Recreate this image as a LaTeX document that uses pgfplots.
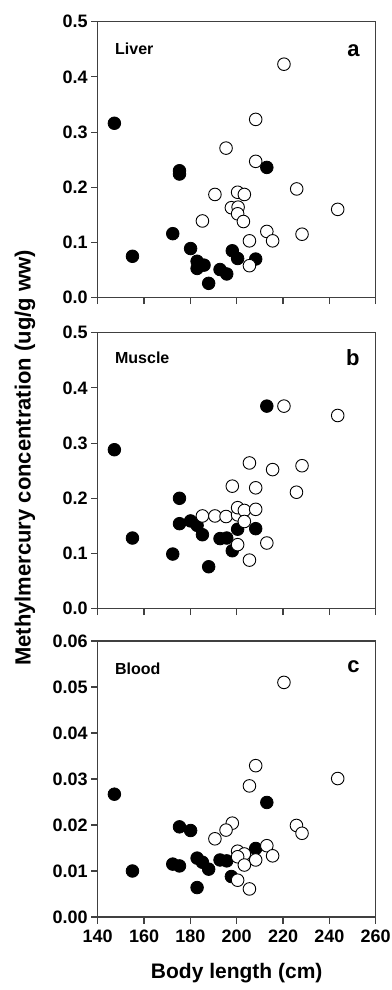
\documentclass[border=0pt]{standalone}
\usepackage{fontspec}
\setmainfont{Liberation Sans}
\usepackage{pgfplots}
\pgfplotsset{compat=1.18}

\pgfplotsset{
  panel/.style={
    scale only axis, width=278pt, height=276pt,
    xmin=140, xmax=260, xtick={140,160,180,200,220,240,260},
    tick pos=left, tick align=outside,
    major tick length=6.5pt,
    axis line style={black!75, line width=1.1pt},
    every tick/.style={black!75, line width=1.1pt},
    tick label style={font=\fontsize{18}{18}\selectfont\bfseries},
    xticklabel style={yshift=-3pt},
    scaled y ticks=false,
    /pgf/number format/assume math mode=true,
  },
  filled/.style={only marks, mark=*, mark size=6.3pt, mark options={fill=black, draw=black, line width=0.8pt}},
  open/.style={only marks, mark=*, mark size=6.3pt, mark options={fill=white, draw=black, line width=0.9pt}},
}

\begin{document}
\begin{tikzpicture}
% Panel a: Liver
\begin{axis}[panel, at={(0pt,619.3pt)}, anchor=south west,
  ymin=0, ymax=0.5, ytick={0,0.1,0.2,0.3,0.4,0.5}, xticklabels={},
  yticklabel style={/pgf/number format/fixed, /pgf/number format/fixed zerofill, /pgf/number format/precision=1}]
\addplot[filled] coordinates {
(147.2,0.316) (155.0,0.075) (172.4,0.116) (175.3,0.230) (175.3,0.224)
(180.1,0.089) (182.9,0.066) (182.9,0.053) (185.9,0.059) (187.9,0.026)
(192.8,0.051) (195.7,0.043) (198.1,0.085) (200.4,0.071) (208.2,0.070)
(213.0,0.236)};
\addplot[open] coordinates {
(220.4,0.423) (208.2,0.323) (195.4,0.271) (208.2,0.247) (225.9,0.197)
(190.6,0.187) (200.4,0.191) (203.3,0.187) (243.6,0.160) (197.7,0.163)
(200.6,0.164) (200.4,0.152) (185.2,0.139) (202.9,0.138) (213.0,0.120)
(215.5,0.103) (228.2,0.115) (205.5,0.103) (205.5,0.058)};
\node[anchor=base west, font=\fontsize{16}{16}\selectfont\bfseries] at (rel axis cs:0.05,0.882) {Liver};
\node[anchor=base east, font=\fontsize{22}{22}\selectfont\bfseries] at (rel axis cs:0.955,0.875) {a};
\end{axis}
% Panel b: Muscle
\begin{axis}[panel, at={(0pt,308.3pt)}, anchor=south west,
  ymin=0, ymax=0.5, ytick={0,0.1,0.2,0.3,0.4,0.5}, xticklabels={},
  yticklabel style={/pgf/number format/fixed, /pgf/number format/fixed zerofill, /pgf/number format/precision=1}]
\addplot[filled] coordinates {
(147.2,0.288) (155.0,0.128) (172.4,0.099) (175.3,0.200) (175.3,0.154)
(180.1,0.159) (182.9,0.151) (185.2,0.134) (187.9,0.076) (192.8,0.127)
(195.7,0.128) (198.1,0.105) (200.4,0.144) (208.2,0.145) (213.0,0.367)};
\addplot[open] coordinates {
(220.4,0.367) (243.6,0.350) (205.5,0.264) (215.5,0.252) (228.2,0.259)
(225.8,0.211) (198.1,0.222) (208.2,0.219) (185.2,0.168) (190.6,0.168)
(195.4,0.167) (200.4,0.170) (200.4,0.183) (203.3,0.178) (208.2,0.180)
(203.3,0.158) (200.4,0.116) (213.0,0.119) (205.5,0.088)};
\node[anchor=base west, font=\fontsize{16}{16}\selectfont\bfseries] at (rel axis cs:0.05,0.889) {Muscle};
\node[anchor=base east, font=\fontsize{22}{22}\selectfont\bfseries] at (rel axis cs:0.955,0.88) {b};
\end{axis}
% Panel c: Blood
\begin{axis}[panel, at={(0pt,0pt)}, anchor=south west,
  ymin=0, ymax=0.06, ytick={0,0.01,0.02,0.03,0.04,0.05,0.06},
  yticklabel style={/pgf/number format/fixed, /pgf/number format/fixed zerofill, /pgf/number format/precision=2}]
\addplot[filled] coordinates {
(147.2,0.0267) (155.0,0.0100) (172.4,0.0115) (175.3,0.0196) (175.3,0.0111)
(180.1,0.0188) (182.9,0.0128) (182.9,0.0064) (185.2,0.0119) (187.9,0.0104)
(192.8,0.0124) (195.7,0.0122) (197.7,0.0088) (208.2,0.0149) (213.0,0.0249)};
\addplot[open] coordinates {
(220.4,0.0510) (208.2,0.0329) (205.5,0.0285) (243.6,0.0301) (198.1,0.0204)
(195.4,0.0189) (190.6,0.0170) (225.8,0.0199) (228.2,0.0182) (213.0,0.0155)
(215.5,0.0133) (200.4,0.0143) (203.3,0.0137) (200.4,0.0131) (208.2,0.0124)
(203.3,0.0113) (200.4,0.0080) (205.5,0.0061)};
\node[anchor=base west, font=\fontsize{16}{16}\selectfont\bfseries] at (rel axis cs:0.05,0.88) {Blood};
\node[anchor=base east, font=\fontsize{22}{22}\selectfont\bfseries] at (rel axis cs:0.955,0.885) {c};
\end{axis}
\node[anchor=base, font=\fontsize{21}{21}\selectfont\bfseries] at (139pt,-61pt) {Body length (cm)};
\node[rotate=90, anchor=base, font=\fontsize{22}{22}\selectfont\bfseries] at (-67pt,459pt) {Methylmercury concentration (ug/g ww)};
\pgfresetboundingbox
\path[use as bounding box] (-97.7pt,-73pt) rectangle (293.3pt,917pt);
\end{tikzpicture}
\end{document}
